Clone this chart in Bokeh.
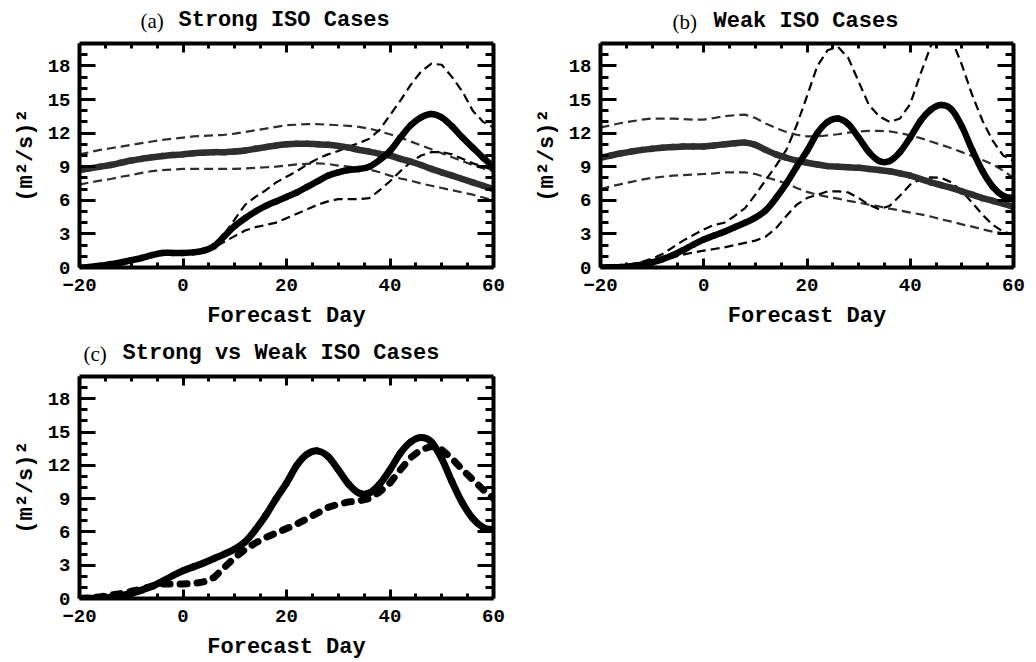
from bokeh.plotting import figure
from bokeh.models import Range1d, FixedTicker, LinearAxis
from bokeh.core.properties import value
from bokeh.layouts import column, row
from bokeh.embed import file_html
from bokeh.resources import INLINE

# ---------------- data ----------------
days = [-20, -18, -16, -14, -12, -10, -8, -6, -4, -2, 0, 2, 4, 6, 8, 10, 12, 14, 16, 18, 20,
        22, 24, 26, 28, 30, 32, 34, 36, 38, 40, 42, 44, 46, 48, 50, 52, 54, 56, 58, 60]

# (a) Strong ISO cases
strong_err = [0.0, 0.05, 0.15, 0.3, 0.45, 0.65, 0.85, 1.1, 1.3, 1.3, 1.3, 1.35, 1.5, 1.9, 2.8, 3.7,
              4.4, 5.0, 5.5, 5.9, 6.3, 6.7, 7.2, 7.7, 8.2, 8.5, 8.7, 8.8, 9.0, 9.6, 10.4, 11.6, 12.7,
              13.4, 13.7, 13.4, 12.6, 11.6, 10.7, 9.8, 9.0]
strong_err_hi = [0.0, 0.05, 0.15, 0.3, 0.45, 0.65, 0.85, 1.1, 1.3, 1.3, 1.3, 1.35, 1.5, 1.9, 3.0, 4.3,
                 5.6, 6.3, 6.9, 7.6, 8.1, 8.6, 9.2, 9.7, 10.1, 10.4, 10.8, 11.1, 11.5, 12.3, 13.6, 14.9,
                 16.3, 17.5, 18.2, 18.1, 17.0, 15.7, 14.0, 13.0, 12.5]
strong_err_lo = [0.0, 0.05, 0.15, 0.3, 0.45, 0.65, 0.85, 1.1, 1.3, 1.3, 1.3, 1.35, 1.5, 1.8, 2.3, 2.8,
                 3.3, 3.6, 3.8, 4.0, 4.4, 4.8, 5.2, 5.6, 5.9, 6.1, 6.1, 6.1, 6.2, 6.9, 7.7, 8.6, 9.4,
                 10.0, 10.3, 10.3, 10.1, 9.7, 9.3, 9.0, 8.7]
strong_var = [8.7, 8.85, 9.0, 9.15, 9.35, 9.55, 9.7, 9.85, 9.95, 10.05, 10.1, 10.2, 10.25, 10.3, 10.3,
              10.35, 10.45, 10.6, 10.75, 10.9, 11.0, 11.05, 11.05, 11.0, 10.95, 10.85, 10.7, 10.5,
              10.35, 10.15, 10.0, 9.7, 9.45, 9.15, 8.8, 8.5, 8.2, 7.9, 7.6, 7.3, 7.0]
strong_var_hi = [10.1, 10.3, 10.5, 10.65, 10.8, 10.95, 11.1, 11.25, 11.4, 11.5, 11.6, 11.7, 11.75, 11.8,
                 11.85, 11.95, 12.1, 12.25, 12.4, 12.55, 12.7, 12.75, 12.8, 12.8, 12.75, 12.7, 12.65,
                 12.55, 12.4, 12.15, 11.9, 11.6, 11.25, 10.9, 10.55, 10.2, 9.85, 9.5, 9.15, 8.85, 8.6]
strong_var_lo = [7.4, 7.6, 7.75, 7.9, 8.1, 8.25, 8.45, 8.6, 8.7, 8.75, 8.8, 8.8, 8.8, 8.8, 8.8, 8.8,
                 8.85, 8.9, 8.95, 9.0, 9.1, 9.2, 9.25, 9.3, 9.25, 9.1, 9.0, 8.9, 8.75, 8.5, 8.2, 7.95,
                 7.75, 7.5, 7.3, 7.1, 6.9, 6.7, 6.5, 6.25, 6.0]

# (b) Weak ISO cases
weak_err = [0.0, 0.02, 0.05, 0.12, 0.25, 0.45, 0.75, 1.1, 1.55, 2.05, 2.5, 2.85, 3.2, 3.6, 4.0, 4.45,
            5.1, 6.2, 7.5, 9.0, 10.4, 12.0, 13.0, 13.3, 12.8, 11.6, 10.3, 9.5, 9.5, 10.3, 11.6, 13.1,
            14.1, 14.5, 14.1, 12.6, 10.5, 8.6, 7.2, 6.4, 6.2]
weak_err_hi = [0.0, 0.05, 0.15, 0.3, 0.5, 0.8, 1.2, 1.8, 2.4, 2.9, 3.4, 3.8, 4.0, 4.6, 5.3, 6.5, 7.8,
               9.1, 10.5, 12.7, 15.3, 18.0, 19.4, 19.7, 18.7, 16.6, 14.5, 13.5, 13.0, 13.3, 14.6, 17.3,
               19.8, 21.0, 20.4, 18.1, 15.4, 13.1, 11.3, 10.0, 9.5]
weak_err_lo = [0.0, 0.02, 0.05, 0.12, 0.25, 0.45, 0.7, 0.9, 1.15, 1.35, 1.5, 1.65, 1.8, 2.0, 2.2, 2.4,
               2.75, 3.5, 4.6, 5.6, 6.2, 6.5, 6.8, 6.8, 6.7, 6.2, 5.6, 5.2, 5.5, 6.4, 7.4, 7.9, 8.05,
               8.0, 7.6, 6.8, 5.8, 4.7, 3.8, 3.2, 2.95]
weak_var = [9.8, 10.0, 10.2, 10.35, 10.5, 10.6, 10.7, 10.75, 10.8, 10.8, 10.8, 10.9, 11.0, 11.1, 11.15,
            10.95, 10.5, 10.1, 9.8, 9.55, 9.35, 9.2, 9.05, 9.0, 8.95, 8.9, 8.8, 8.7, 8.6, 8.4, 8.2,
            7.9, 7.6, 7.35, 7.1, 6.8, 6.5, 6.2, 5.95, 5.7, 5.4]
weak_var_hi = [12.5, 12.7, 12.9, 13.05, 13.2, 13.3, 13.3, 13.3, 13.25, 13.2, 13.2, 13.35, 13.5, 13.6,
               13.65, 13.35, 12.85, 12.45, 12.1, 11.85, 11.7, 11.7, 11.8, 11.9, 12.05, 12.15, 12.2,
               12.2, 12.15, 12.0, 11.8, 11.55, 11.25, 10.95, 10.65, 10.3, 9.95, 9.6, 9.2, 8.65, 8.0]
weak_var_lo = [7.0, 7.25, 7.45, 7.65, 7.85, 8.0, 8.1, 8.2, 8.25, 8.3, 8.35, 8.4, 8.5, 8.5, 8.5, 8.35,
               8.05, 7.8, 7.5, 7.1, 6.75, 6.5, 6.3, 6.15, 5.95, 5.8, 5.6, 5.45, 5.25, 5.1, 4.9, 4.75,
               4.55, 4.3, 4.1, 3.85, 3.65, 3.4, 3.2, 3.05, 3.0]

x_ticks = [-20, 0, 20, 40, 60]
x_minor = [-15, -10, -5, 5, 10, 15, 25, 30, 35, 45, 50, 55]
y_ticks = [0, 3, 6, 9, 12, 15, 18]
y_minor = [1, 2, 4, 5, 7, 8, 10, 11, 13, 14, 16, 17, 19]
x_tick_labels = {-20: "\u221220", 0: "0", 20: "20", 40: "40", 60: "60"}

panel_letters = ["(a)", "(b)", "(c)"]
panel_captions = ["Strong ISO Cases", "Weak ISO Cases", "Strong vs Weak ISO Cases"]
x_label = "Forecast Day"
y_label = "(m\u00b2/s)\u00b2"

# ---------------- styling ----------------
MONO = "Liberation Mono"
SERIF = "Liberation Serif"
W = 518
XMIN, XMAX, YMIN, YMAX = -20, 60, 0, 20


def title_strip(height, left, right, letter, caption, px_letter, px_caption, baseline):
    """A thin axis-less figure holding the two-font panel title.
    Its frame is aligned with the panel below, so the x range is set in canvas pixels
    of that frame (left .. W-right)."""
    t = figure(width=W, height=height, output_backend="svg", toolbar_location=None,
               x_range=Range1d(left, W - right), y_range=Range1d(0, height),
               x_axis_type=None, y_axis_type=None, min_border=0,
               min_border_left=left, min_border_right=right)
    t.xgrid.visible = False
    t.ygrid.visible = False
    t.outline_line_color = None
    yb = height - baseline
    t.text(x=[px_letter], y=[yb], text=[letter], text_font=value(SERIF),
           text_font_size=value("21px"), text_color="black",
           text_baseline=value("alphabetic"), text_align=value("left"))
    t.text(x=[px_caption], y=[yb], text=[caption], text_font=value(MONO),
           text_font_style=value("bold"), text_font_size=value("22px"), text_color="black",
           text_baseline=value("alphabetic"), text_align=value("left"))
    return t


def make_panel(height, left, right, top, bottom):
    p = figure(width=W, height=height, output_backend="svg", toolbar_location=None,
               x_range=Range1d(XMIN, XMAX), y_range=Range1d(YMIN, YMAX),
               min_border_left=left, min_border_right=right,
               min_border_top=top, min_border_bottom=bottom)
    p.xgrid.visible = False
    p.ygrid.visible = False
    p.outline_line_color = None

    xt = FixedTicker(ticks=x_ticks, minor_ticks=x_minor)
    yt = FixedTicker(ticks=y_ticks, minor_ticks=y_minor)

    xr = p.xaxis[0]
    yr = p.yaxis[0]
    top_ax = LinearAxis(ticker=xt)
    right_ax = LinearAxis(ticker=yt)
    p.add_layout(top_ax, "above")
    p.add_layout(right_ax, "right")

    for ax, is_x in ((xr, True), (top_ax, True), (yr, False), (right_ax, False)):
        ax.ticker = xt if is_x else yt
        ax.axis_line_width = 4
        ax.axis_line_color = "black"
        ax.major_tick_line_width = 3
        ax.minor_tick_line_width = 3
        ax.major_tick_out = 0
        ax.minor_tick_out = 0
        if is_x:
            ax.major_tick_in = 9
            ax.minor_tick_in = 5
        else:
            ax.major_tick_in = 16
            ax.minor_tick_in = 8
        ax.major_label_text_font = MONO
        ax.major_label_text_font_style = "bold"
        ax.major_label_text_color = "black"
        ax.major_label_text_font_size = "19px"

    for ax in (top_ax, right_ax):
        ax.major_label_overrides = {t: "" for t in (x_ticks if ax is top_ax else y_ticks)}
        ax.major_label_standoff = 0
        ax.axis_label = None

    xr.major_label_overrides = x_tick_labels
    xr.major_label_standoff = 11
    xr.axis_label = x_label
    xr.axis_label_standoff = 10
    xr.axis_label_text_font = MONO
    xr.axis_label_text_font_style = "bold"
    xr.axis_label_text_font_size = "22px"
    xr.axis_label_text_color = "black"

    yr.major_label_standoff = 9
    yr.axis_label = y_label
    yr.axis_label_standoff = 6
    yr.axis_label_text_font = MONO
    yr.axis_label_text_font_style = "bold"
    yr.axis_label_text_font_size = "22px"
    yr.axis_label_text_color = "black"
    return p


def smooth(p, xs, ys, **kw):
    """Draw a curve through the read points as cubic Bezier pieces (Catmull-Rom tangents)."""
    n = len(xs)
    d = dict(x0=[], y0=[], x1=[], y1=[], cx0=[], cy0=[], cx1=[], cy1=[])
    for i in range(n - 1):
        a = max(i - 1, 0)
        b = min(i + 2, n - 1)
        d["x0"].append(xs[i]); d["y0"].append(ys[i])
        d["x1"].append(xs[i + 1]); d["y1"].append(ys[i + 1])
        d["cx0"].append(xs[i] + (xs[i + 1] - xs[a]) / 6.0)
        d["cy0"].append(ys[i] + (ys[i + 1] - ys[a]) / 6.0)
        d["cx1"].append(xs[i + 1] - (xs[b] - xs[i]) / 6.0)
        d["cy1"].append(ys[i + 1] - (ys[b] - ys[i]) / 6.0)
    p.bezier(x0="x0", y0="y0", x1="x1", y1="y1", cx0="cx0", cy0="cy0", cx1="cx1", cy1="cy1",
             source=d, **kw)


BLACK = "#000000"
GREY = "#2e2e2e"
DASH = "9 5"

ta = title_strip(40, 79, 25, panel_letters[0], panel_captions[0], 140, 178, 20)
tb = title_strip(40, 82, 23, panel_letters[1], panel_captions[1], 154, 195, 21)
tc = title_strip(42, 79, 25, panel_letters[2], panel_captions[2], 83, 122, 22)

pa = make_panel(291, 79, 25, 3, 64)
pb = make_panel(291, 82, 23, 3, 64)
pc = make_panel(289, 79, 25, 3, 64)

for p, err, ehi, elo, var, vhi, vlo in ((pa, strong_err, strong_err_hi, strong_err_lo,
                                         strong_var, strong_var_hi, strong_var_lo),
                                        (pb, weak_err, weak_err_hi, weak_err_lo,
                                         weak_var, weak_var_hi, weak_var_lo)):
    for s in (vhi, vlo):
        p.line(days, s, line_color=GREY, line_width=2.2, line_dash=DASH)
    for s in (ehi, elo):
        p.line(days, s, line_color=BLACK, line_width=2.2, line_dash=DASH)
    smooth(p, days, var, line_color=GREY, line_width=6.5, line_cap="round")
    smooth(p, days, err, line_color=BLACK, line_width=6.5, line_cap="round")

pc.line(days, strong_err, line_color=BLACK, line_width=7, line_dash="7 10",
        line_cap="round", line_join="round")
smooth(pc, days, weak_err, line_color=BLACK, line_width=7, line_cap="round")

layout = column(row(column(ta, pa), column(tb, pb)), column(tc, pc))
open("out.html", "w").write(file_html(layout, INLINE))
